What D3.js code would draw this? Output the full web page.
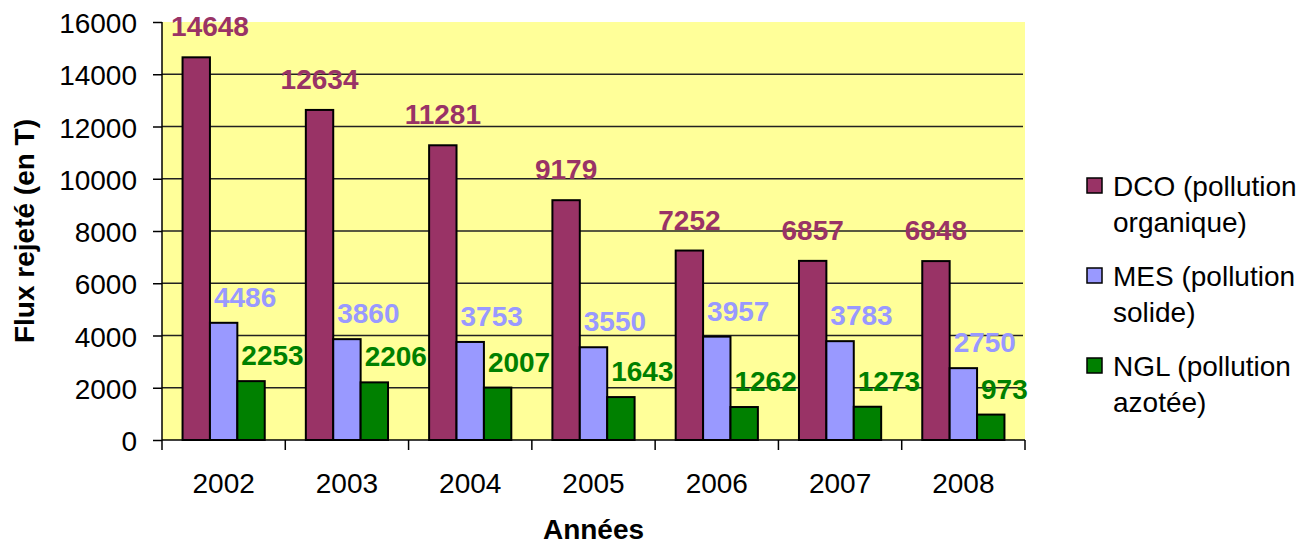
<!DOCTYPE html>
<html>
<head>
<meta charset="utf-8">
<script src="https://cdn.jsdelivr.net/npm/d3@7"></script>
<style>
  html, body { margin: 0; padding: 0; background: #fff; }
  svg { display: block; font-family: 'Liberation Sans', Arial, sans-serif; }
</style>
</head>
<body>
<div id="chart"></div>
<script>
const years = ['2002', '2003', '2004', '2005', '2006', '2007', '2008'];
const seriesNames = ['DCO (pollution organique)', 'MES (pollution solide)', 'NGL (pollution azotée)'];
const dcoValues = [14648, 12634, 11281, 9179, 7252, 6857, 6848];
const mesValues = [4486, 3860, 3753, 3550, 3957, 3783, 2750];
const nglValues = [2253, 2206, 2007, 1643, 1262, 1273, 973];
const yTicks = [0, 2000, 4000, 6000, 8000, 10000, 12000, 14000, 16000];

const WIDTH = 1312;
const HEIGHT = 546;
const PLOT_LEFT = 162;
const PLOT_RIGHT = 1025;
const PLOT_TOP = 22;
const PLOT_BOTTOM = 440;
const COLORS = ['#993366', '#9999FF', '#008000'];
const LEGEND_LINES = [['DCO (pollution', 'organique)'], ['MES (pollution', 'solide)'], ['NGL (pollution', 'azotée)']];

const series = [dcoValues, mesValues, nglValues];

const svg = d3.select('#chart')
  .append('svg')
  .attr('width', WIDTH)
  .attr('height', HEIGHT);

const x = d3.scaleBand().domain(years).range([PLOT_LEFT, PLOT_RIGHT]).paddingInner(0).paddingOuter(0);
// excel gap width 150% -> three bars take 3/4.5 of the band
const inner = d3.scaleBand()
  .domain(d3.range(series.length))
  .range([x.bandwidth() * 0.75 / 4.5, x.bandwidth() - x.bandwidth() * 0.75 / 4.5]);
const y = d3.scaleLinear().domain([0, 16000]).range([PLOT_BOTTOM, PLOT_TOP]);

// plot background
svg.append('rect')
  .attr('x', PLOT_LEFT)
  .attr('y', PLOT_TOP)
  .attr('width', PLOT_RIGHT - PLOT_LEFT)
  .attr('height', PLOT_BOTTOM - PLOT_TOP)
  .attr('fill', '#FFFF99');

// gridlines
svg.append('g')
  .selectAll('line')
  .data(yTicks.filter((t) => t > 0 && t < 16000))
  .join('line')
  .attr('x1', PLOT_LEFT)
  .attr('x2', PLOT_RIGHT - 2)
  .attr('y1', (d) => y(d))
  .attr('y2', (d) => y(d))
  .attr('stroke', '#222')
  .attr('stroke-width', 1.5);

// bars
series.forEach((values, s) => {
  svg.append('g')
    .selectAll('rect')
    .data(values)
    .join('rect')
    .attr('x', (d, i) => x(years[i]) + inner(s))
    .attr('y', (d) => y(d))
    .attr('width', inner.bandwidth())
    .attr('height', (d) => y(0) - y(d))
    .attr('fill', COLORS[s])
    .attr('stroke', '#000')
    .attr('stroke-width', 2);
});

// y axis
const yAxis = svg.append('g')
  .attr('transform', `translate(${PLOT_LEFT},0)`)
  .call(d3.axisLeft(y).tickValues(yTicks).tickSize(9).tickPadding(16).tickFormat(d3.format('d')));
yAxis.select('.domain').attr('stroke', '#000').attr('stroke-width', 1.5).attr('d', `M0,${PLOT_TOP}V${PLOT_BOTTOM}`);
yAxis.selectAll('.tick line').attr('stroke', '#000').attr('stroke-width', 1.5);
yAxis.selectAll('.tick text').attr('font-size', 28).attr('fill', '#000').attr('dy', '0.38em');

// x axis
const xAxis = svg.append('g').attr('transform', `translate(0,${PLOT_BOTTOM})`);
xAxis.append('line')
  .attr('x1', PLOT_LEFT)
  .attr('x2', PLOT_RIGHT)
  .attr('stroke', '#000')
  .attr('stroke-width', 1.5);
xAxis.selectAll('line.tick')
  .data(years.concat(['end']))
  .join('line')
  .attr('class', 'tick')
  .attr('x1', (d, i) => (i < years.length ? x(d) : PLOT_RIGHT))
  .attr('x2', (d, i) => (i < years.length ? x(d) : PLOT_RIGHT))
  .attr('y1', 0)
  .attr('y2', 10)
  .attr('stroke', '#000')
  .attr('stroke-width', 1.5);
xAxis.selectAll('text')
  .data(years)
  .join('text')
  .attr('x', (d) => x(d) + x.bandwidth() / 2)
  .attr('y', 53)
  .attr('text-anchor', 'middle')
  .attr('font-size', 28)
  .text((d) => d);

// data labels
series.forEach((values, s) => {
  svg.append('g')
    .selectAll('text')
    .data(values)
    .join('text')
    .attr('x', (d, i) => {
      const left = x(years[i]) + inner(s);
      if (s === 0) return Math.max(left + inner.bandwidth() / 2, PLOT_LEFT + 48);
      return left + 4;
    })
    .attr('y', (d) => y(d) - (s === 0 ? 21 : 16))
    .attr('text-anchor', s === 0 ? 'middle' : 'start')
    .attr('font-size', 28)
    .attr('font-weight', 'bold')
    .attr('fill', COLORS[s])
    .text((d) => d);
});

// axis titles
svg.append('text')
  .attr('transform', `translate(34,${(PLOT_TOP + PLOT_BOTTOM) / 2}) rotate(-90)`)
  .attr('text-anchor', 'middle')
  .attr('font-size', 28)
  .attr('font-weight', 'bold')
  .text('Flux rejeté (en T)');

svg.append('text')
  .attr('x', (PLOT_LEFT + PLOT_RIGHT) / 2)
  .attr('y', 539)
  .attr('text-anchor', 'middle')
  .attr('font-size', 28)
  .attr('font-weight', 'bold')
  .text('Années');

// legend
const legend = svg.append('g').attr('transform', 'translate(1087,178)');
seriesNames.forEach((name, s) => {
  const row = legend.append('g').attr('transform', `translate(0,${s * 90})`);
  row.append('rect')
    .attr('width', 15)
    .attr('height', 15)
    .attr('fill', COLORS[s])
    .attr('stroke', '#000')
    .attr('stroke-width', 1.5);
  const text = row.append('text').attr('x', 26).attr('y', 18).attr('font-size', 28).attr('fill', '#000');
  LEGEND_LINES[s].forEach((line, k) => {
    text.append('tspan').attr('x', 26).attr('dy', k === 0 ? 0 : 36).text(line);
  });
});
</script>
</body>
</html>
